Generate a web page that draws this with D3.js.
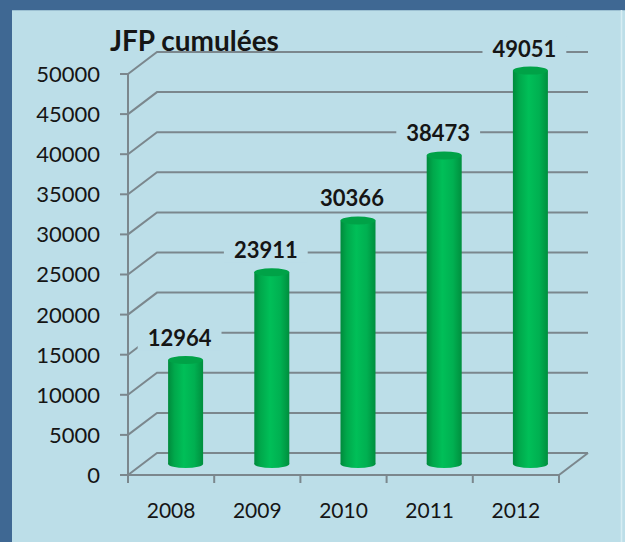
<!DOCTYPE html>
<html>
<head>
<meta charset="utf-8">
<script src="https://cdn.jsdelivr.net/npm/d3@7"></script>
<style>
  body { margin: 0; background: #3f6893; }
  svg { display: block; }
  text { font-family: Lato, "Open Sans", sans-serif; fill: #151515; }
</style>
</head>
<body>
<div id="chart-area"></div>
<script>
var years = ["2008", "2009", "2010", "2011", "2012"];
var values = [12964, 23911, 30366, 38473, 49051];
var yTicks = [0, 5000, 10000, 15000, 20000, 25000, 30000, 35000, 40000, 45000, 50000];
var title = "JFP cumulées";

var W = 625, H = 542;
var bg = "#bcdee8";
var gridColor = "#7b878d";
var depthX = 29, depthY = -22;

var svg = d3.select("#chart-area").append("svg")
    .attr("width", W)
    .attr("height", H);

// frame
svg.append("rect").attr("width", W).attr("height", H).attr("fill", "#3f6893");
svg.append("rect").attr("x", 12).attr("y", 10).attr("width", W - 12).attr("height", H - 10).attr("fill", bg);
svg.append("line").attr("x1", 12).attr("x2", W).attr("y1", 10.5).attr("y2", 10.5)
    .attr("stroke", "#9cc0d2").attr("stroke-width", 1);
svg.append("line").attr("x1", 621.5).attr("x2", 621.5).attr("y1", 10).attr("y2", H)
    .attr("stroke", "#d6edf3").attr("stroke-width", 1.5);

var x = d3.scaleBand().domain(years).range([128, 559]);
var y = d3.scaleLinear().domain([0, 50000]).range([475, 74]);
var backRight = x.range()[1] + depthX;

var defs = svg.append("defs");
var grad = defs.append("linearGradient").attr("id", "cyl")
    .attr("x1", "0%").attr("x2", "100%").attr("y1", "0%").attr("y2", "0%");
grad.append("stop").attr("offset", "0%").attr("stop-color", "#008a3c");
grad.append("stop").attr("offset", "18%").attr("stop-color", "#00a84b");
grad.append("stop").attr("offset", "45%").attr("stop-color", "#00bf58");
grad.append("stop").attr("offset", "75%").attr("stop-color", "#00b051");
grad.append("stop").attr("offset", "100%").attr("stop-color", "#008f3e");

// back wall gridlines with perspective stubs
var grid = svg.append("g").attr("stroke", gridColor).attr("stroke-width", 2).attr("fill", "none");
yTicks.forEach(function (t) {
    var y0 = y(t);
    grid.append("path")
        .attr("d", "M" + x.range()[0] + "," + y0 +
            "L" + (x.range()[0] + depthX) + "," + (y0 + depthY) +
            "L" + backRight + "," + (y0 + depthY));
});
// floor right edge
grid.append("path")
    .attr("d", "M" + x.range()[1] + "," + y(0) + "L" + backRight + "," + (y(0) + depthY));

// bars (cylinders)
var bw = 35, ry = 4;
var bars = svg.append("g").selectAll("g")
    .data(years.map(function (d, i) { return { year: d, value: values[i] }; }))
    .enter().append("g");

function cx(d) { return x(d.year) + x.bandwidth() / 2 + depthX / 2; }
function topY(d) { return y(d.value) + depthY / 2; }
var bottomY = y(0) + depthY / 2;

bars.append("ellipse")
    .attr("cx", cx).attr("cy", bottomY)
    .attr("rx", bw / 2).attr("ry", ry)
    .attr("fill", "url(#cyl)");
bars.append("rect")
    .attr("x", function (d) { return cx(d) - bw / 2; })
    .attr("y", topY)
    .attr("width", bw)
    .attr("height", function (d) { return bottomY - topY(d); })
    .attr("fill", "url(#cyl)");
bars.append("ellipse")
    .attr("cx", cx).attr("cy", topY)
    .attr("rx", bw / 2).attr("ry", ry)
    .attr("fill", "#00a247");

// value labels with background boxes over the gridlines
var labels = bars.append("g")
    .attr("transform", function (d) { return "translate(" + (cx(d) - 6) + "," + (topY(d) - 22) + ")"; });
labels.append("rect").attr("fill", bg);
labels.append("text")
    .attr("text-anchor", "middle")
    .attr("dy", "0.36em")
    .style("font-size", "22px")
    .style("font-weight", "bold")
    .text(function (d) { return d.value; });
labels.each(function () {
    var g = d3.select(this);
    var w = g.select("text").node().getComputedTextLength();
    g.select("rect").attr("x", -w / 2 - 10).attr("y", -12).attr("width", w + 20).attr("height", 24);
});

// y axis
var axis = svg.append("g").attr("stroke", gridColor).attr("stroke-width", 2);
axis.append("line").attr("x1", 128).attr("x2", 128).attr("y1", y(50000)).attr("y2", y(0) + 8);
axis.append("line").attr("x1", 128).attr("x2", x.range()[1]).attr("y1", y(0)).attr("y2", y(0));
yTicks.forEach(function (t) {
    axis.append("line").attr("x1", 120).attr("x2", 128).attr("y1", y(t)).attr("y2", y(t));
});
years.concat(["end"]).forEach(function (d, i) {
    var xx = x.range()[0] + i * x.step();
    axis.append("line").attr("x1", xx).attr("x2", xx).attr("y1", y(0)).attr("y2", y(0) + 8);
});

svg.append("g").selectAll("text")
    .data(yTicks)
    .enter().append("text")
    .attr("x", 100)
    .attr("y", function (d) { return y(d); })
    .attr("dy", "0.36em")
    .attr("text-anchor", "end")
    .style("font-size", "22px")
    .text(function (d) { return d; });

svg.append("g").selectAll("text")
    .data(years)
    .enter().append("text")
    .attr("x", function (d) { return x(d) + x.bandwidth() / 2; })
    .attr("y", 518)
    .attr("text-anchor", "middle")
    .style("font-size", "21px")
    .text(function (d) { return d; });

svg.append("text")
    .attr("x", 110)
    .attr("y", 51)
    .style("font-size", "28px")
    .style("font-weight", "bold")
    .text(title);
</script>
</body>
</html>
